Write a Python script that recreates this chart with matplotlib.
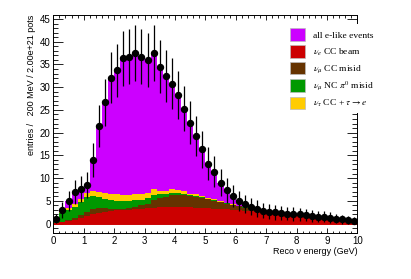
import numpy as np
import matplotlib
matplotlib.use("Agg")
import matplotlib.pyplot as plt
from matplotlib.patches import Patch, Rectangle
from matplotlib.legend_handler import HandlerPatch
from matplotlib.ticker import MultipleLocator

plt.rcParams['font.family'] = ['Liberation Sans', 'DejaVu Sans']
plt.rcParams['mathtext.fontset'] = 'stix'

# 50 bins of 0.2 GeV from 0 to 10 GeV
edges = np.linspace(0, 10, 51)

# observed entries (also the "all e-like events" total)
data = [1.1, 3.0, 4.9, 6.9, 7.6, 8.5, 13.9, 21.5, 26.7, 32.1,
        33.7, 36.4, 36.7, 37.5, 36.7, 36.0, 37.5, 34.5, 32.4, 30.8,
        28.3, 25.3, 22.2, 19.3, 16.3, 13.2, 11.4, 9.0, 7.3, 6.1,
        5.0, 4.3, 3.7, 3.3, 2.8, 2.6, 2.45, 2.4, 2.2, 2.1,
        2.0, 1.9, 1.7, 1.5, 1.5, 1.3, 1.1, 0.9, 0.77, 0.63]

# background components (stacked from the bottom)
nue_beam = [0.15, 0.3, 0.5, 0.8, 1.2, 1.6, 2.0, 2.3, 2.5, 2.7,
            2.9, 3.0, 3.0, 3.1, 3.3, 3.4, 3.5, 3.6, 3.6, 3.7,
            3.7, 3.6, 3.6, 3.5, 3.5, 3.4, 3.3, 3.2, 3.1, 3.0,
            2.9, 2.8, 2.7, 2.6, 2.5, 2.4, 2.3, 2.2, 2.1, 2.0,
            1.9, 1.8, 1.6, 1.4, 1.35, 1.15, 0.95, 0.8, 0.65, 0.55]
numu_cc = [0.05, 0.1, 0.2, 0.4, 0.7, 1.0, 1.2, 1.1, 0.9, 0.6,
           0.4, 0.3, 0.4, 0.6, 0.7, 1.0, 1.7, 2.0, 2.2, 2.5,
           2.6, 2.6, 2.4, 2.3, 2.1, 1.9, 1.7, 1.5, 1.3, 1.1,
           0.9, 0.7, 0.6, 0.45, 0.2, 0.12, 0.08, 0.1, 0.05, 0.03,
           0.03, 0.03, 0.03, 0.03, 0.03, 0.03, 0.03, 0.03, 0.03, 0.03]
numu_nc = [0.8, 2.0, 2.3, 2.4, 2.8, 3.2, 2.9, 2.4, 2.1, 1.9,
           1.7, 1.6, 1.5, 1.4, 1.2, 1.2, 1.0, 0.8, 0.6, 0.5,
           0.4, 0.4, 0.3, 0.3, 0.2, 0.15, 0.12, 0.1, 0.1, 0.08,
           0.07, 0.07, 0.07, 0.05, 0.04, 0.03, 0.02, 0.02, 0.01, 0.01,
           0.01, 0.01, 0.01, 0.01, 0.01, 0.01, 0.01, 0.01, 0.01, 0.01]
nutau = [0.05, 0.3, 0.4, 0.7, 0.7, 1.0, 1.0, 1.2, 1.3, 1.4,
         1.4, 1.3, 1.3, 1.3, 1.2, 1.1, 1.3, 0.8, 0.7, 1.0,
         0.6, 0.6, 0.3, 0.3, 0.3, 0.25, 0.18, 0.15, 0.1, 0.12,
         0.08, 0.08, 0.08, 0.1, 0.04, 0.03, 0.02, 0.02, 0.01, 0.01,
         0.01, 0.01, 0.01, 0.01, 0.01, 0.01, 0.01, 0.01, 0.01, 0.01]

labels = ['all e-like events', r'$\nu_e$ CC beam', r'$\nu_\mu$ CC misid',
          r'$\nu_\mu$ NC $\pi^0$ misid', r'$\nu_\tau$ CC + $\tau\rightarrow e$']
colors = ['#cc00ff', '#cc0000', '#663300', '#009900', '#ffcc00']


class BoxHandler(HandlerPatch):
    # fixed-size colour box, centred in a taller (uniform) legend row
    def create_artists(self, legend, orig_handle, xdescent, ydescent,
                       width, height, fontsize, trans):
        hh = 9.0
        p = Rectangle((-xdescent, -ydescent + (height - hh) / 2), width, hh)
        self.update_prop(p, orig_handle, legend)
        p.set_transform(trans)
        return [p]


fig = plt.figure(figsize=(4.11, 2.79), dpi=100)
ax = fig.add_axes([0.1297, 0.1638, 0.7397, 0.7835])

ax.stairs(data, edges, baseline=0, fill=True, color=colors[0], lw=0)
bottom = np.zeros(len(edges) - 1)
for comp, c in zip([nue_beam, numu_cc, numu_nc, nutau], colors[1:]):
    top = bottom + np.array(comp)
    ax.stairs(top, edges, baseline=bottom, fill=True, color=c, lw=0)
    bottom = top
ax.axhline(0, color='#cc0000', lw=0.7)

centers = 0.5 * (edges[1:] + edges[:-1])
ax.errorbar(centers, data, yerr=np.sqrt(data), fmt='o', color='black',
            ms=4.3, elinewidth=0.9, capsize=0)

ax.set_xlim(0, 10)
ax.set_ylim(-2.15, 45.95)
ax.xaxis.set_major_locator(MultipleLocator(1))
ax.xaxis.set_minor_locator(MultipleLocator(0.2))
ax.yaxis.set_major_locator(MultipleLocator(5))
ax.yaxis.set_minor_locator(MultipleLocator(1))
ax.tick_params(axis='x', which='major', direction='in', top=True, length=3.6, width=0.6,
               labelsize=7, pad=2)
ax.tick_params(axis='x', which='minor', direction='in', top=True, length=1.8, width=0.6)
ax.tick_params(axis='y', which='major', direction='in', right=True, length=7.2, width=0.6,
               labelsize=7, pad=2)
ax.tick_params(axis='y', which='minor', direction='in', right=True, length=3.6, width=0.6)
for s in ax.spines.values():
    s.set_linewidth(0.7)

ax.set_xlabel(r'Reco ν energy (GeV)', fontsize=6.5, loc='right', labelpad=1)
ax.set_ylabel('entries /   200 MeV / 2.00e+21 pots', fontsize=6.5, loc='top', labelpad=3)

handles = [Patch(facecolor=c, edgecolor='#bbbbbb', lw=0.5) for c in colors]
leg = ax.legend(handles, labels, loc='upper left', bbox_to_anchor=(0.6968, 0.9125),
                bbox_transform=fig.transFigure, frameon=True, fancybox=False,
                facecolor='white', edgecolor='none', framealpha=1,
                borderpad=0.4, borderaxespad=0, handlelength=1.6, handleheight=1.7,
                labelspacing=0.42, handletextpad=0.85,
                handler_map={Patch: BoxHandler()},
                prop={'family': 'Liberation Serif', 'size': 6.8})

fig.savefig('out.png', dpi=100)
